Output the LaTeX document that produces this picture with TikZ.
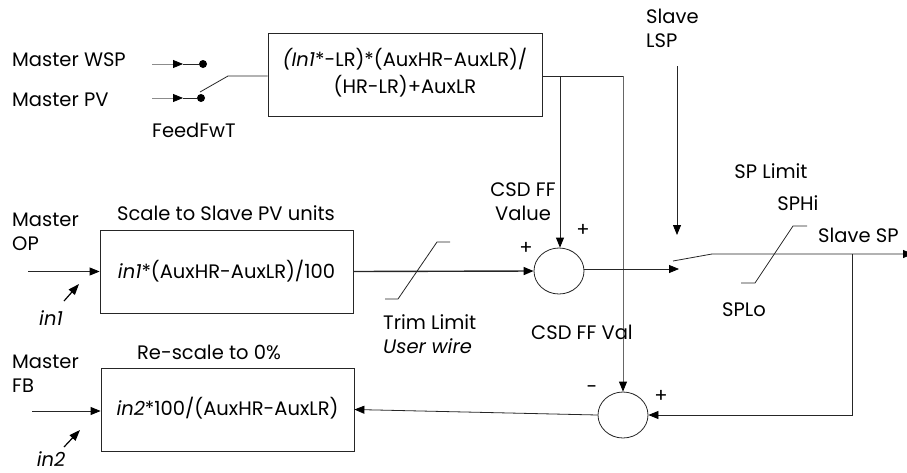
\documentclass[tikz,border=0pt]{standalone}
\usepackage{fontspec}
\setmainfont{Poppins}
\usetikzlibrary{arrows.meta,shapes.geometric}
\begin{document}
\begin{tikzpicture}[x=1pt,y=-1pt,
  every node/.style={font=\fontsize{19.5}{24}\selectfont, inner sep=0pt},
  wire/.style={line width=0.8pt, draw=black!85},
  arr/.style={wire, -{Triangle[length=10pt,width=8pt,color=black]}},
  smallarr/.style={line width=1.2pt, -{Triangle[length=11pt,width=8pt]}},
  blk/.style={draw=black!85, line width=0.8pt, rectangle},
  sumj/.style={draw=black!85, line width=0.8pt, ellipse, minimum width=50pt, minimum height=46pt},
  contact/.style={circle, fill=black, minimum size=8pt},
  lbl/.style={align=center},
  lbll/.style={align=left, anchor=west}
]
\useasboundingbox (0,0) rectangle (907,472);

% ---- blocks
\node[blk, minimum width=274pt, minimum height=83pt, align=center] (box1) at (405,74.5)
  {\raisebox{-3pt}{\begin{tabular}{@{}c@{}}\textit{(In1}*-LR)*(AuxHR-AuxLR)/\\[1pt](HR-LR)+AuxLR\end{tabular}}};
\node[blk, minimum width=253pt, minimum height=83pt] (box2) at (226.5,271.5)
  {\textit{in1}*(AuxHR-AuxLR)/100};
\node[blk, minimum width=253pt, minimum height=83pt] (box3) at (227.5,409.5)
  {\raisebox{7pt}{\textit{in2}*100/(AuxHR-AuxLR)}};
\node[sumj] (sum1) at (559,271) {};
\node[sumj] (sum2) at (623,415) {};

% ---- switch contacts
\node[contact] (d1) at (203,64) {};
\node[contact] (d2) at (201,98) {};
\coordinate (wspin) at (152,64);
\coordinate (wspa) at (183,64);
\coordinate (pvin) at (152,98);
\coordinate (pva) at (183,98);
\draw[arr, draw=black!45] (wspin) -- (wspa);
\draw[wire] (wspa) -- (d1);
\draw[arr, draw=black!45] (pvin) -- (pva);
\draw[wire] (pva) -- (d2);
\coordinate (arm0) at (200,92);
\coordinate (arm1) at (228,76);
\draw[wire] (arm0) -- (arm1) -- (box1.west |- arm1);

% ---- feed forward output
\coordinate (j2) at (560,76);
\coordinate (j1) at (623,76);
\draw[wire] (box1.east |- j1) -- (j1);
\draw[arr] (j2) -- (j2 |- sum1.north);
\draw[arr, draw=black!60] (j1) -- (sum2.north);

% ---- master OP path
\coordinate (opin) at (28,271.5);
\draw[arr] (opin) -- (box2.west);
\draw[arr, line width=1.4pt] (box2.east) -- (sum1.west);
\draw[wire] (385,299) -- (398,299) -- (437,242) -- (450,242);

% ---- SP select
\coordinate (sp1) at (679,269);
\draw[arr] (sum1.east |- sp1) -- (sp1);
\coordinate (lspin) at (677,66);
\coordinate (lsptip) at (677,235);
\draw[arr] (lspin) -- (lsptip);
\coordinate (sw0) at (673,261);
\coordinate (sw1) at (712,254);
\coordinate (spout) at (913,254);
\coordinate (fb) at (852,254);
\draw[arr] (sw0) -- (sw1) -- (spout);
\draw[wire] (741,283) -- (755,283) -- (793,226) -- (807,226);
\draw[arr] (fb) -- (fb |- sum2.east) -- (sum2.east);

% ---- feedback path
\draw[arr] (sum2.west) -- (box3.east);
\coordinate (fbin) at (32,411);
\draw[arr] (fbin) -- (box3.west |- fbin);

% ---- small input arrows
\draw[smallarr] (64,301) -- (79,284);
\draw[smallarr] (64,447) -- (80,430);

% ---- labels
\node[lbll] (lwsp) at (12,60) {Master WSP};
\node[lbll] (lpv) at (12,100) {Master PV};
\node[lbll] (lffw) at (152,130) {FeedFwT};
\node[lbll] (lop) at (12,231.5) {Master\\OP};
\node[lbl] (lscale) at (226,213) {Scale to Slave PV units};
\node[lbl] (lin1) at (51,318) {\textit{in1}};
\node[lbll] (ltrim) at (383,334.5) {Trim Limit\\\textit{User wire}};
\node[lbl] (lcsd) at (523,201.5) {CSD FF\\Value};
\node[lbl] (lp1) at (526,248) {+};
\node[lbl] (lp2) at (583,230) {+};
\node[lbl] (lcsdv) at (582,332) {CSD FF Val};
\node[lbll] (llsp) at (646,28.5) {Slave\\LSP};
\node[lbl] (lspl) at (771,171) {SP Limit};
\node[lbl] (lsphi) at (798,203) {SPHi};
\node[lbll] (lssp) at (818,235) {Slave SP};
\node[lbl] (lsplo) at (744,310) {SPLo};
\node[lbl] (lm) at (592,390) {-};
\node[lbl] (lp3) at (661,396) {+};
\node[lbl] (lres) at (209,352) {Re-scale to 0\%};
\node[lbll] (lfb) at (12,373.5) {Master\\FB};
\node[lbl] (lin2) at (51,459) {\textit{in2}};
\end{tikzpicture}
\end{document}
